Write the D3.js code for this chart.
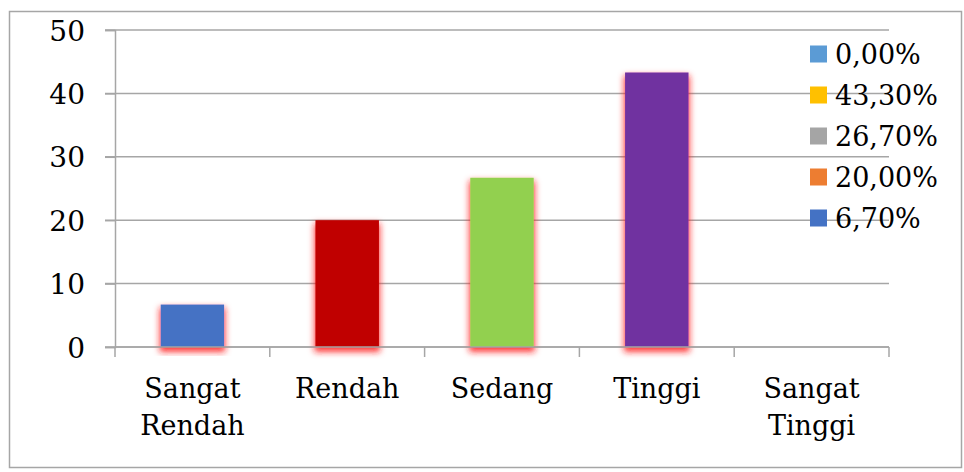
<!DOCTYPE html>
<html>
<head>
<meta charset="utf-8">
<script src="https://cdn.jsdelivr.net/npm/d3@7"></script>
<style>
	body { margin: 0; background: #fff; }
	text { font-family: "DejaVu Serif", serif; fill: #000; }
</style>
</head>
<body>
<svg width="964" height="472"></svg>
<script>
// chart data
const categories = ["Sangat\nRendah", "Rendah", "Sedang", "Tinggi", "Sangat\nTinggi"];
const values = [6.7, 20, 26.7, 43.3, 0];
const bar_colors = ["#4472C4", "#C00000", "#92D050", "#7030A0", "#5B9BD5"];
const legend_labels = ["0,00%", "43,30%", "26,70%", "20,00%", "6,70%"];
const legend_colors = ["#5B9BD5", "#FFC000", "#A5A5A5", "#ED7D31", "#4472C4"];
const y_ticks = [0, 10, 20, 30, 40, 50];

function draw_chart() {
	let svg = d3.select("svg");
	let grid_color = "#a6a6a6";

	// outer frame
	svg.append("rect")
		.attr("x", 9.5).attr("y", 11.5)
		.attr("width", 952).attr("height", 456)
		.attr("fill", "none")
		.attr("stroke", grid_color)
		.attr("stroke-width", 1.5);

	let defs = svg.append("defs");
	let f = defs.append("filter")
		.attr("id", "glow")
		.attr("x", "-40%").attr("y", "-20%")
		.attr("width", "180%").attr("height", "140%");
	f.append("feMorphology").attr("in", "SourceAlpha").attr("operator", "dilate").attr("radius", 1).attr("result", "d");
	f.append("feGaussianBlur").attr("in", "d").attr("stdDeviation", 3).attr("result", "b");
	f.append("feOffset").attr("in", "b").attr("dy", 4).attr("result", "o");
	f.append("feFlood").attr("flood-color", "#ff1a1a").attr("flood-opacity", 0.85).attr("result", "c");
	f.append("feComposite").attr("in", "c").attr("in2", "o").attr("operator", "in").attr("result", "s");
	let m = f.append("feMerge");
	m.append("feMergeNode").attr("in", "s");
	m.append("feMergeNode").attr("in", "SourceGraphic");

	let left = 115, right = 889, top = 30, bottom = 347;

	let x = d3.scaleBand()
		.domain(d3.range(categories.length))
		.range([left, right])
		.padding(0);

	let y = d3.scaleLinear()
		.domain([0, 50])
		.range([bottom, top]);

	// gridlines
	svg.append("g")
		.selectAll("line")
		.data(y_ticks)
		.enter()
		.append("line")
		.attr("x1", left - 10)
		.attr("x2", right)
		.attr("y1", function(d) { return y(d); })
		.attr("y2", function(d) { return y(d); })
		.attr("stroke", grid_color)
		.attr("stroke-width", 1.5);

	// y axis
	let y_axis = svg.append("g")
		.attr("transform", "translate(" + left + ",0)")
		.call(d3.axisLeft(y).tickValues(y_ticks).tickSize(10).tickPadding(20));
	y_axis.select(".domain").attr("stroke", grid_color).attr("stroke-width", 1.5);
	y_axis.selectAll(".tick line").attr("stroke", grid_color).attr("stroke-width", 1.5);
	y_axis.selectAll(".tick text")
		.attr("font-size", 28)
		.attr("font-family", "DejaVu Serif")
		.attr("dy", "0.36em");

	// bars
	svg.append("g")
		.selectAll("rect")
		.data(values)
		.enter()
		.filter(function(d) { return d > 0; })
		.append("rect")
		.attr("x", function(d) { return x(values.indexOf(d)) + x.bandwidth() * 0.295; })
		.attr("width", x.bandwidth() * 0.41)
		.attr("y", function(d) { return y(d); })
		.attr("height", function(d) { return bottom - y(d); })
		.attr("fill", function(d) { return bar_colors[values.indexOf(d)]; })
		.attr("filter", "url(#glow)");

	// x axis
	let x_axis = svg.append("g");
	x_axis.append("line")
		.attr("x1", left).attr("x2", right)
		.attr("y1", bottom).attr("y2", bottom)
		.attr("stroke", grid_color).attr("stroke-width", 1.5);
	x_axis.selectAll(".xtick")
		.data(d3.range(categories.length + 1))
		.enter()
		.append("line")
		.attr("x1", function(d) { return left + d * x.step(); })
		.attr("x2", function(d) { return left + d * x.step(); })
		.attr("y1", bottom)
		.attr("y2", bottom + 10)
		.attr("stroke", grid_color).attr("stroke-width", 1.5);

	let labels = x_axis.selectAll(".xlabel")
		.data(categories)
		.enter()
		.append("text")
		.attr("text-anchor", "middle")
		.attr("font-size", 27)
		.attr("transform", function(d, i) {
			return "translate(" + (x(i) + x.bandwidth() / 2) + ",398)";
		});
	labels.selectAll("tspan")
		.data(function(d) { return d.split("\n"); })
		.enter()
		.append("tspan")
		.attr("x", 0)
		.attr("y", function(d, i) { return i * 37; })
		.text(function(d) { return d; });

	// legend
	let legend = svg.append("g")
		.selectAll("g")
		.data(legend_labels)
		.enter()
		.append("g")
		.attr("transform", function(d, i) { return "translate(810," + (54 + i * 41) + ")"; });
	legend.append("rect")
		.attr("x", 0).attr("y", -8.5)
		.attr("width", 17).attr("height", 17)
		.attr("fill", function(d, i) { return legend_colors[i]; });
	legend.append("text")
		.attr("x", 25)
		.attr("dy", "0.36em")
		.attr("font-size", 27)
		.text(function(d) { return d; });
}

draw_chart();
</script>
</body>
</html>
